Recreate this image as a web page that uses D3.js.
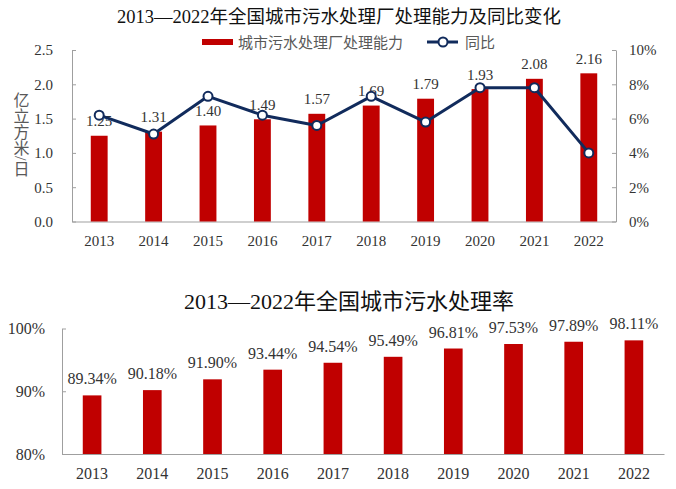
<!DOCTYPE html>
<html>
<head>
<meta charset="utf-8">
<script src="https://cdn.jsdelivr.net/npm/d3@7"></script>
<style>
  body { margin: 0; background: #fff; }
  text { font-family: "Liberation Serif", "Noto Sans CJK SC", serif; }
  .axis path, .axis line { stroke: #9f9f9f; }
  .axis text { fill: #333; }
</style>
</head>
<body>
<script>
// data
var years = ["2013", "2014", "2015", "2016", "2017",
             "2018", "2019", "2020", "2021", "2022"];
var capacity = [1.25, 1.31, 1.40, 1.49, 1.57, 1.69, 1.79, 1.93, 2.08, 2.16];
var yoy = [6.2, 5.1, 7.3, 6.2, 5.6, 7.3, 5.8, 7.8, 7.8, 4.0];
var rate = [89.34, 90.18, 91.90, 93.44, 94.54, 95.49, 96.81, 97.53, 97.89,
            98.11];
var capTicks = [0, 0.5, 1.0, 1.5, 2.0, 2.5];
var yoyTicks = [0, 2, 4, 6, 8, 10];
var rateTicks = [80, 90, 100];

var red = "#c00000", navy = "#112b5c";

var svg = d3.select("body").append("svg")
    .attr("width", 676)
    .attr("height", 489);

// ---------- top chart: capacity + yoy ----------
var x1 = d3.scaleBand().domain(years).range([72, 616])
    .paddingInner(0.69).paddingOuter(0.345);
var yL = d3.scaleLinear().domain([0, 2.5]).range([221.5, 50]);
var yR = d3.scaleLinear().domain([0, 10]).range([221.5, 50]);

svg.append("text")
    .attr("x", 339).attr("y", 23)
    .attr("text-anchor", "middle")
    .style("font-size", "18.5px")
    .style("fill", "#111")
    .text("2013—2022年全国城市污水处理厂处理能力及同比变化");

// legend
var lg = svg.append("g").style("font-size", "15px").style("fill", "#595959");
lg.append("rect").attr("x", 202).attr("y", 39).attr("width", 31)
    .attr("height", 6).attr("fill", red);
lg.append("text").attr("x", 238).attr("y", 47.5).text("城市污水处理厂处理能力");
lg.append("line").attr("x1", 427).attr("x2", 458).attr("y1", 42)
    .attr("y2", 42).attr("stroke", navy).attr("stroke-width", 3);
lg.append("circle").attr("cx", 443).attr("cy", 42).attr("r", 4.5)
    .attr("fill", "#fff").attr("stroke", navy).attr("stroke-width", 2);
lg.append("text").attr("x", 465).attr("y", 47.5).text("同比");

svg.append("g").attr("class", "axis")
    .attr("transform", "translate(72,0)")
    .style("font-size", "15px")
    .call(d3.axisLeft(yL).tickValues(capTicks).tickFormat(d3.format(".1f"))
        .tickSizeInner(-4).tickSizeOuter(0).tickPadding(19));

svg.append("g").attr("class", "axis")
    .attr("transform", "translate(616,0)")
    .style("font-size", "15px")
    .call(d3.axisRight(yR).tickValues(yoyTicks)
        .tickFormat(function(d) { return d + "%"; })
        .tickSizeInner(-4).tickSizeOuter(0).tickPadding(13));

svg.append("g").attr("class", "axis")
    .attr("transform", "translate(0,221.5)")
    .style("font-size", "15px")
    .call(d3.axisBottom(x1).tickSize(0).tickPadding(14));

// y axis title, written top to bottom
svg.append("text")
    .attr("x", 20).attr("y", 92)
    .style("writing-mode", "vertical-rl")
    .style("font-size", "16px").style("fill", "#595959")
    .text("亿立方米/日");

svg.selectAll(".bar1").data(capacity).enter().append("rect")
    .attr("class", "bar1")
    .attr("x", function(d, i) { return x1(years[i]); })
    .attr("width", x1.bandwidth())
    .attr("y", function(d) { return yL(d); })
    .attr("height", function(d) { return yL(0) - yL(d); })
    .attr("fill", red);

svg.selectAll(".lab1").data(capacity).enter().append("text")
    .attr("class", "lab1")
    .attr("x", function(d, i) { return x1(years[i]) + x1.bandwidth() / 2; })
    .attr("y", function(d) { return yL(d) - 9.5; })
    .attr("text-anchor", "middle")
    .style("font-size", "15px").style("fill", "#333")
    .text(function(d) { return d.toFixed(2); });

var line = d3.line()
    .x(function(d, i) { return x1(years[i]) + x1.bandwidth() / 2; })
    .y(function(d) { return yR(d); });

svg.append("path").datum(yoy)
    .attr("d", line)
    .attr("fill", "none")
    .attr("stroke", navy)
    .attr("stroke-width", 3)
    .attr("stroke-linejoin", "round");

svg.selectAll(".dot").data(yoy).enter().append("circle")
    .attr("class", "dot")
    .attr("cx", function(d, i) { return x1(years[i]) + x1.bandwidth() / 2; })
    .attr("cy", function(d) { return yR(d); })
    .attr("r", 4.5)
    .attr("fill", "#fff")
    .attr("stroke", navy)
    .attr("stroke-width", 2);

// ---------- bottom chart: treatment rate ----------
var x2 = d3.scaleBand().domain(years).range([62, 664])
    .paddingInner(0.69).paddingOuter(0.345);
var y2 = d3.scaleLinear().domain([80, 100]).range([454, 328.5]);

svg.append("text")
    .attr("x", 349).attr("y", 309)
    .attr("text-anchor", "middle")
    .style("font-size", "22px")
    .style("fill", "#111")
    .text("2013—2022年全国城市污水处理率");

svg.append("g").attr("class", "axis")
    .attr("transform", "translate(62,0)")
    .style("font-size", "16px")
    .call(d3.axisLeft(y2).tickValues(rateTicks)
        .tickFormat(function(d) { return d + "%"; })
        .tickSizeInner(-4).tickSizeOuter(0).tickPadding(17));

svg.append("g").attr("class", "axis")
    .attr("transform", "translate(0,454)")
    .style("font-size", "16px")
    .call(d3.axisBottom(x2).tickSize(0).tickPadding(14));

svg.selectAll(".axis").attr("font-family", null);

svg.selectAll(".bar2").data(rate).enter().append("rect")
    .attr("class", "bar2")
    .attr("x", function(d, i) { return x2(years[i]); })
    .attr("width", x2.bandwidth())
    .attr("y", function(d) { return y2(d); })
    .attr("height", function(d) { return y2(80) - y2(d); })
    .attr("fill", red);

svg.selectAll(".lab2").data(rate).enter().append("text")
    .attr("class", "lab2")
    .attr("x", function(d, i) { return x2(years[i]) + x2.bandwidth() / 2; })
    .attr("y", function(d) { return y2(d) - 11; })
    .attr("text-anchor", "middle")
    .style("font-size", "16px").style("fill", "#333")
    .text(function(d) { return d.toFixed(2) + "%"; });
</script>
</body>
</html>
